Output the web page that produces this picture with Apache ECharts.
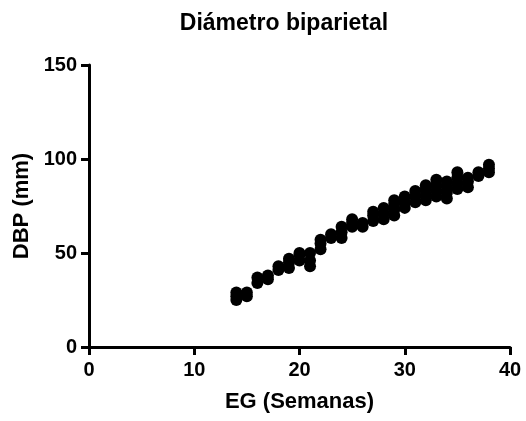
<!DOCTYPE html>
<html>
<head>
<meta charset="utf-8">
<script src="https://cdn.jsdelivr.net/npm/echarts@6/dist/echarts.min.js"></script>
<style>html,body{margin:0;padding:0;background:#fff}#c{width:526px;height:421px}</style>
</head>
<body>
<div id="c"></div>
<script>
const weeks = [14,15,16,17,18,19,20,21,22,23,24,25,26,27,28,29,30,31,32,33,34,35,36,37,38];
const dbpValues = [
  [25,27,29],
  [27,29],
  [34,37],
  [36,38],
  [41,43],
  [42,45,47],
  [46,49,50],
  [43,46,50],
  [52,55,57],
  [58,60],
  [58,61,64],
  [64,66,68],
  [64,66],
  [67,70,72],
  [68,71,74],
  [70,73,76,78],
  [74,77,80],
  [77,80,83],
  [78,81,84,86],
  [80,83,86,89],
  [79,82,85,88],
  [84,87,90,93],
  [85,88,90],
  [91,93],
  [93,95,97]
];
const xTicks = [0,10,20,30,40];
const yTicks = [0,50,100,150];

const points = [];
weeks.forEach((w,i)=>dbpValues[i].forEach(v=>points.push([w,v])));

const chart = echarts.init(document.getElementById('c'));
const font = 'Liberation Sans, Arial, Helvetica, sans-serif';
chart.setOption({
  animation:false,
  title:{text:'Diámetro biparietal',left:279,textAlign:'center',top:7,
    textStyle:{fontFamily:font,fontWeight:'bold',fontSize:23,color:'#000'}},
  grid:{left:89,right:16,top:65,bottom:74,containLabel:false},
  xAxis:{type:'value',min:xTicks[0],max:xTicks[xTicks.length-1],interval:10,
    name:'EG (Semanas)',nameLocation:'middle',nameGap:44,
    nameTextStyle:{fontFamily:font,fontWeight:'bold',fontSize:22,color:'#000'},
    axisLine:{onZero:false,lineStyle:{color:'#000',width:3}},
    axisTick:{show:true,length:8,lineStyle:{color:'#000',width:3}},
    axisLabel:{fontFamily:font,fontWeight:'bold',fontSize:20,color:'#000',margin:13},
    splitLine:{show:false}},
  yAxis:{type:'value',min:yTicks[0],max:yTicks[yTicks.length-1],interval:50,
    name:'DBP (mm)',nameLocation:'middle',nameGap:51,
    nameTextStyle:{fontFamily:font,fontWeight:'bold',fontSize:22,color:'#000'},
    axisLine:{show:true,onZero:false,lineStyle:{color:'#000',width:3}},
    axisTick:{show:true,length:8,lineStyle:{color:'#000',width:3}},
    axisLabel:{fontFamily:font,fontWeight:'bold',fontSize:20,color:'#000',margin:12},
    splitLine:{show:false}},
  series:[{type:'scatter',data:points,symbol:'circle',symbolSize:12,
    itemStyle:{color:'#000',opacity:1}}]
});
</script>
</body>
</html>
